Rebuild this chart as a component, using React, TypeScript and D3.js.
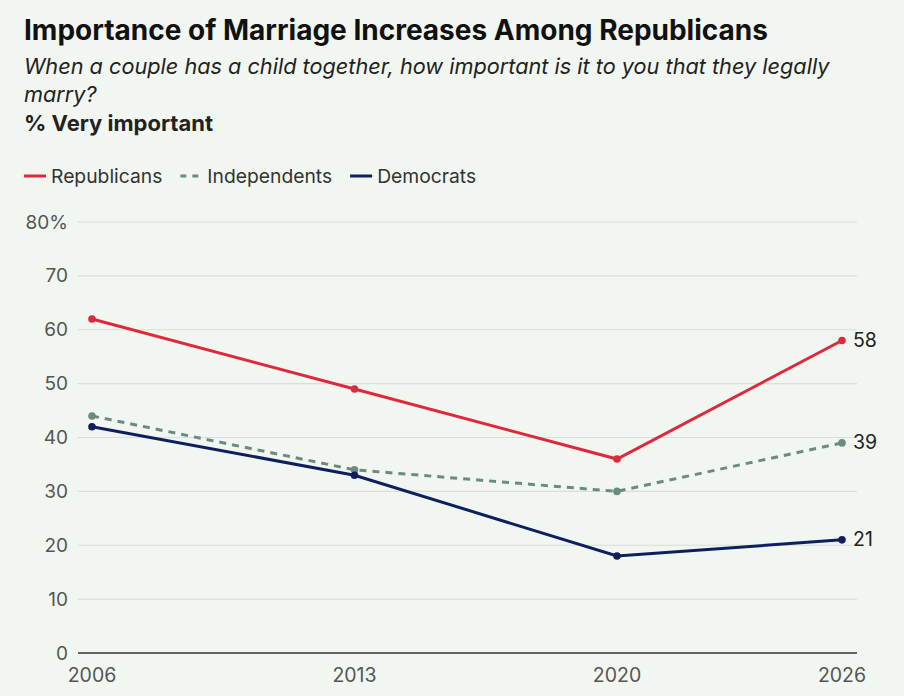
import * as d3 from 'd3';
import React, { useEffect, useRef } from 'react';

// Importance of marriage line chart

const years = [2006, 2013, 2020, 2026];
const republicans = [62, 49, 36, 58];
const independents = [44, 34, 30, 39];
const democrats = [42, 33, 18, 21];
const yTicks = [0, 10, 20, 30, 40, 50, 60, 70, 80];

export default () => {
    const ref = useRef<any>();

    useEffect(() => {
        document.body.style.margin = '0';
        document.body.style.background = '#f1f7f0';

        const width = 904;
        const height = 696;
        const font = 'Inter, "Noto Sans", sans-serif';

        const svg = d3.select<any, any>(ref.current)
            .attr('width', width)
            .attr('height', height)
            .style('display', 'block')
            .style('font-family', font);
        svg.selectAll('*').remove();

        svg.append('rect').attr('width', width).attr('height', height).attr('fill', '#f1f7f0');

        // titles
        svg.append('text').attr('x', 24).attr('y', 40)
            .attr('font-size', 28).attr('font-weight', 700).attr('fill', '#111')
            .text('Importance of Marriage Increases Among Republicans');
        svg.append('text').attr('x', 24).attr('y', 74)
            .attr('font-size', 21.7).attr('font-style', 'italic').attr('fill', '#222')
            .text('When a couple has a child together, how important is it to you that they legally');
        svg.append('text').attr('x', 24).attr('y', 102)
            .attr('font-size', 21.7).attr('font-style', 'italic').attr('fill', '#222')
            .text('marry?');
        svg.append('text').attr('x', 24).attr('y', 131)
            .attr('font-size', 22).attr('font-weight', 700).attr('fill', '#222')
            .text('% Very important');

        const series = [
            { name: 'Republicans', values: republicans, color: '#e0283c', dash: null },
            { name: 'Independents', values: independents, color: '#6b8a80', dash: '7,6' },
            { name: 'Democrats', values: democrats, color: '#0e1f5e', dash: null },
        ];

        // legend
        let lx = 24;
        series.forEach((s) => {
            const g = svg.append('g').attr('transform', `translate(${lx},176)`);
            g.append('line').attr('x1', 0).attr('x2', 22).attr('y1', 0).attr('y2', 0)
                .attr('stroke', s.color).attr('stroke-width', 3)
                .attr('stroke-dasharray', s.dash ? '6,6' : null);
            const t = g.append('text').attr('x', 27).attr('y', 7)
                .attr('font-size', 19.3).attr('fill', '#333').text(s.name);
            const w = (t.node() as any).getComputedTextLength();
            lx += 27 + w + 18;
        });

        const xScale = d3.scaleLinear().domain([2006, 2026]).range([92, 842]);
        const yScale = d3.scaleLinear().domain([0, 80]).range([653, 222]);
        const x0 = 78;
        const x1 = 857;

        // grid
        const grid = svg.append('g');
        yTicks.filter((t) => t > 0).forEach((t) => {
            grid.append('line').attr('x1', x0).attr('x2', x1)
                .attr('y1', yScale(t)).attr('y2', yScale(t))
                .attr('stroke', '#d9ded8').attr('stroke-width', 1.2);
        });
        yTicks.forEach((t) => {
            svg.append('text').attr('x', 68).attr('y', yScale(t) + 6.5)
                .attr('text-anchor', 'end').attr('font-size', 19).attr('fill', '#555')
                .text(t === 80 ? '80%' : String(t));
        });
        svg.append('line').attr('x1', x0).attr('x2', x1)
            .attr('y1', yScale(0)).attr('y2', yScale(0))
            .attr('stroke', '#333').attr('stroke-width', 1.5);

        years.forEach((y) => {
            svg.append('text').attr('x', xScale(y)).attr('y', 682)
                .attr('text-anchor', 'middle').attr('font-size', 19.5).attr('fill', '#555')
                .text(String(y));
        });

        const line = d3.line<number>()
            .x((d, i) => xScale(years[i]))
            .y((d) => yScale(d));

        series.forEach((s) => {
            svg.append('path').datum(s.values)
                .attr('d', line as any)
                .attr('fill', 'none').attr('stroke', s.color).attr('stroke-width', 3)
                .attr('stroke-dasharray', s.dash);
            svg.selectAll(null).data(s.values).enter().append('circle')
                .attr('cx', (d, i) => xScale(years[i]))
                .attr('cy', (d) => yScale(d))
                .attr('r', 3.8).attr('fill', s.color);
            const last = s.values[s.values.length - 1];
            svg.append('text').attr('x', xScale(years[years.length - 1]) + 11)
                .attr('y', yScale(last) + 6.5)
                .attr('font-size', 19.5).attr('fill', '#222').text(String(last));
        });
    });

    return (
        <React.Fragment>
            <svg ref={ref}></svg>
        </React.Fragment>
    );
};
